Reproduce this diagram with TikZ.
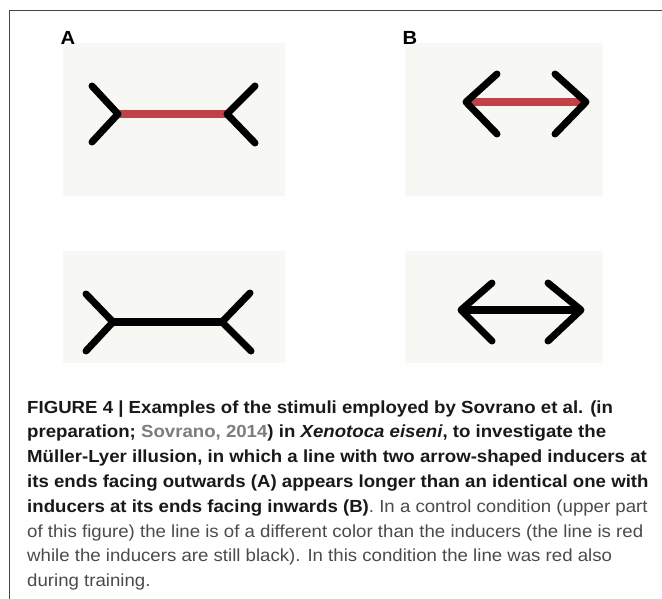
\documentclass[tikz,border=0pt]{standalone}
\usepackage{fontspec}
\setmainfont{Liberation Sans}[FakeStretch=1.065]
\definecolor{panelgray}{RGB}{247,247,244}
\definecolor{shaftred}{RGB}{192,66,72}
\definecolor{boldtext}{RGB}{25,25,25}
\definecolor{lighttext}{RGB}{75,75,75}
\definecolor{cite}{RGB}{125,125,125}
\definecolor{framegray}{RGB}{70,70,70}
\tikzset{
  panel/.style={fill=panelgray, draw=none},
  inducer/.style={draw=black, line width=7pt, line cap=round, line join=round},
  redshaft/.style={draw=shaftred, line width=8pt},
  blackshaft/.style={draw=black, line width=8.5pt},
  panellabel/.style={font=\bfseries\fontsize{19}{22}\selectfont, inner sep=0pt, text=black},
  capline/.style={anchor=base west, inner sep=0pt, font=\fontsize{17.5}{24.5}\selectfont, text=boldtext},
}
\newcommand{\lt}[1]{{\mdseries\color{lighttext}#1}}
\begin{document}
\begin{tikzpicture}[x=1pt,y=-1pt]
\useasboundingbox (0,0) rectangle (662,599);
\fill[white] (0,0) rectangle (662,599);
% frame (top and left edges visible)
\draw[framegray, line width=1pt] (9,599) -- (9,11) -- (662,11);
% panels
\fill[panel] (63,43) rectangle (285,196);
\fill[panel] (405,43) rectangle (603,196);
\fill[panel] (63,251) rectangle (285,363);
\fill[panel] (405,251) rectangle (603,363);
% labels
\node[panellabel] (labA) at (68,38) {A};
\node[panellabel] (labB) at (410,38) {B};
% top A: outward fins, red shaft
\coordinate (aTL) at (118,114); \coordinate (aTR) at (227,114);
\draw[redshaft] (aTL) -- (aTR);
\draw[inducer] (92,86) -- (aTL) -- (92,142);
\draw[inducer] (255,86) -- (aTR) -- (255,143);
% top B: inward arrowheads, red shaft
\coordinate (bTL) at (466,102); \coordinate (bTR) at (586,102);
\draw[redshaft] (bTL) -- (bTR);
\draw[inducer] (497,74) -- (bTL) -- (497,134);
\draw[inducer] (555,74) -- (bTR) -- (555,134);
% bottom A: outward fins, black shaft
\coordinate (aBL) at (113,322); \coordinate (aBR) at (222,322);
\draw[blackshaft] (aBL) -- (aBR);
\draw[inducer] (86,294) -- (aBL) -- (86,351);
\draw[inducer] (250,293) -- (aBR) -- (251,351);
% bottom B: inward arrowheads, black shaft
\coordinate (bBL) at (461,310); \coordinate (bBR) at (581,310);
\draw[blackshaft] (bBL) -- (bBR);
\draw[inducer] (492,283) -- (bBL) -- (492,341);
\draw[inducer] (548,283) -- (bBR) -- (548,341);
% caption
\node[capline] (c1) at (27,413) {\bfseries FIGURE 4 | Examples of the stimuli employed by Sovrano et al. (in};
\node[capline] (c2) at (27,437.8) {\bfseries preparation; {\color{cite}Sovrano, 2014}) in \textit{Xenotoca eiseni}, to investigate the};
\node[capline] (c3) at (27,462.6) {\bfseries Müller-Lyer illusion, in which a line with two arrow-shaped inducers at};
\node[capline] (c4) at (27,487.4) {\bfseries its ends facing outwards (A) appears longer than an identical one with};
\node[capline] (c5) at (27,512.2) {\bfseries inducers at its ends facing inwards (B)\lt{. In a control condition (upper part}};
\node[capline] (c6) at (27,537) {\lt{of this figure) the line is of a different color than the inducers (the line is red}};
\node[capline] (c7) at (27,561.8) {\lt{while the inducers are still black). In this condition the line was red also}};
\node[capline] (c8) at (27,586.6) {\lt{during training.}};
\end{tikzpicture}
\end{document}
